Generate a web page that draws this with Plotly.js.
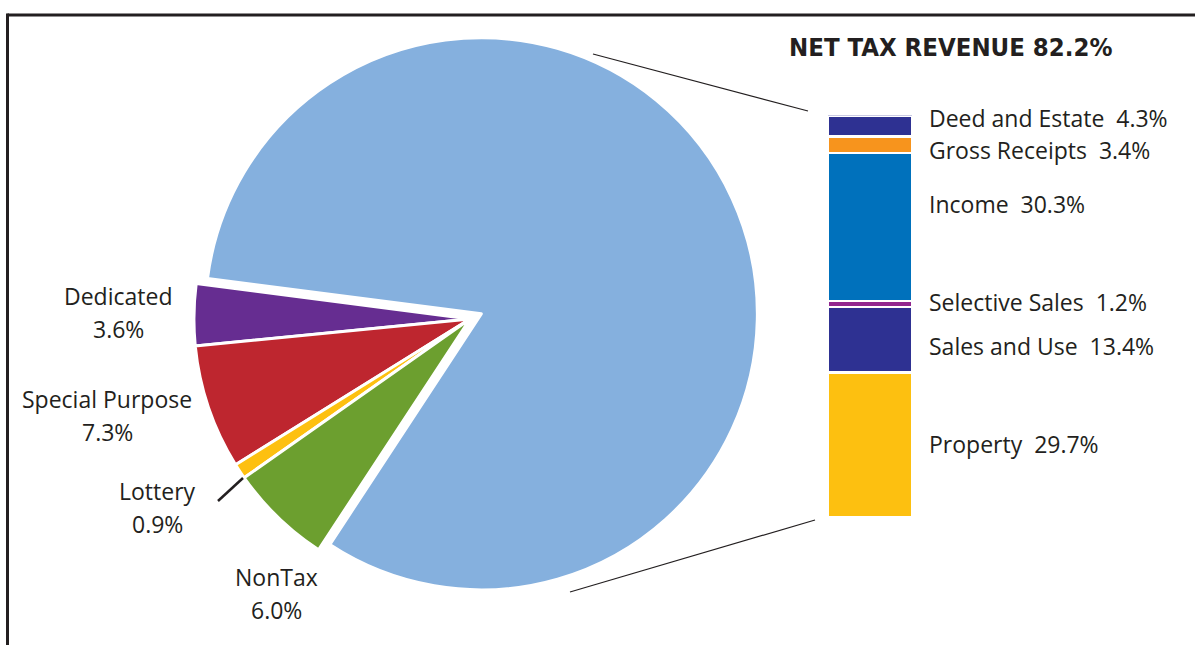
<!DOCTYPE html>
<html>
<head>
<meta charset="utf-8">
<script src="https://cdn.plot.ly/plotly-3.0.1.min.js"></script>
<style>
  html, body { margin: 0; padding: 0; background: #ffffff; }
  #chart { width: 1195px; height: 645px; }
</style>
</head>
<body>
<div id="chart"></div>
<script>
// ---- data ----
const pieLabels = ['Dedicated', 'Special Purpose', 'Lottery', 'NonTax', 'Net Tax Revenue'];
const pieValues = [3.6, 7.3, 0.9, 6.0, 82.2];
const pieColors = ['#662D91', '#BE262F', '#FDC010', '#6C9F2F', '#85B0DE'];

const barLabels = ['Property', 'Sales and Use', 'Selective Sales', 'Income', 'Gross Receipts', 'Deed and Estate'];
const barValues = [29.7, 13.4, 1.2, 30.3, 3.4, 4.3];
const barColors = ['#FDC010', '#2E3192', '#92278F', '#0071BC', '#F7941D', '#2E3192'];

// ---- layout helpers (positions in pixels) ----
const W = 1195, H = 645;
const px = x => x / W;
const py = y => 1 - y / H;
const textColor = '#231F20';
const bodyFont = '"Open Sans", Lato, sans-serif';
const bodySize = 23;

// pie label positions (centre x, name y, value y) in pixels
const pieLabelPos = [
  [118, 296, 329],
  [107, 399, 432],
  [157, 491, 524],
  [276, 577, 610]
];
// bar label y positions in pixels
const barLabelY = [444, 346, 302, 204, 150, 118];

const traces = [];
traces.push({
  type: 'pie',
  labels: pieLabels,
  values: pieValues,
  sort: false,
  direction: 'counterclockwise',
  rotation: 264.4,
  pull: pieLabels.map((l, i) => i === pieLabels.length - 1 ? 0.045 : 0),
  marker: { colors: pieColors, line: { color: '#ffffff', width: 3 } },
  textinfo: 'none',
  hoverinfo: 'none',
  showlegend: false,
  domain: { x: [px(181.5), px(758.5)], y: [py(607.5), py(30.5)] }
});

barLabels.forEach((lab, i) => {
  traces.push({
    type: 'bar',
    x: [0],
    y: [barValues[i]],
    width: 1,
    name: lab,
    marker: { color: barColors[i], line: { color: '#ffffff', width: 2.6 } },
    xaxis: 'x',
    yaxis: 'y',
    hoverinfo: 'none',
    showlegend: false
  });
});

const annotations = [];
// title of the bar
annotations.push({
  xref: 'paper', yref: 'paper', x: px(950.5), y: py(47), xanchor: 'center', yanchor: 'middle',
  text: '<b>NET TAX REVENUE ' + pieValues[pieValues.length - 1].toFixed(1) + '%</b>',
  showarrow: false,
  font: { family: '"DejaVu Sans Condensed", sans-serif', size: 25.5, color: textColor }
});
// pie labels
pieLabelPos.forEach((p, i) => {
  annotations.push({
    xref: 'paper', yref: 'paper', x: px(p[0]), y: py(p[1]), xanchor: 'center', yanchor: 'middle',
    text: pieLabels[i], showarrow: false,
    font: { family: bodyFont, size: bodySize, color: textColor }
  });
  annotations.push({
    xref: 'paper', yref: 'paper', x: px(p[0]), y: py(p[2]), xanchor: 'center', yanchor: 'middle',
    text: pieValues[i].toFixed(1) + '%', showarrow: false,
    font: { family: bodyFont, size: bodySize, color: textColor }
  });
});
// bar labels
barLabels.forEach((lab, i) => {
  annotations.push({
    xref: 'paper', yref: 'paper', x: px(927), y: py(barLabelY[i]), xanchor: 'left', yanchor: 'middle',
    text: lab + '\u00a0\u00a0' + barValues[i].toFixed(1) + '%', showarrow: false,
    font: { family: bodyFont, size: bodySize, color: textColor }
  });
});

const lineStyle = { color: textColor, width: 1.2 };
const shapes = [
  // frame
  { type: 'line', xref: 'paper', yref: 'paper', x0: px(7.5), y0: py(15), x1: px(1200), y1: py(15), line: { color: textColor, width: 3 } },
  { type: 'line', xref: 'paper', yref: 'paper', x0: px(7.5), y0: py(13.5), x1: px(7.5), y1: py(650), line: { color: textColor, width: 3 } },
  // connector lines
  { type: 'line', xref: 'paper', yref: 'paper', x0: px(593), y0: py(54), x1: px(808), y1: py(111), line: lineStyle },
  { type: 'line', xref: 'paper', yref: 'paper', x0: px(570), y0: py(592), x1: px(815), y1: py(520), line: lineStyle },
  // lottery leader
  { type: 'line', xref: 'paper', yref: 'paper', x0: px(218), y0: py(501), x1: px(243), y1: py(478), line: { color: textColor, width: 2.5 } }
];

const total = barValues.reduce((a, b) => a + b, 0);

const layout = {
  width: W, height: H,
  margin: { l: 0, r: 0, t: 0, b: 0, pad: 0 },
  paper_bgcolor: '#ffffff',
  plot_bgcolor: 'rgba(0,0,0,0)',
  barmode: 'stack',
  bargap: 0,
  showlegend: false,
  xaxis: { domain: [px(828), px(912)], range: [-0.5, 0.5], visible: false, fixedrange: true },
  yaxis: { domain: [py(517.3), py(115.4)], range: [0, total], visible: false, fixedrange: true },
  annotations: annotations,
  shapes: shapes
};

Plotly.newPlot('chart', traces, layout, { staticPlot: true, displayModeBar: false });
</script>
</body>
</html>
